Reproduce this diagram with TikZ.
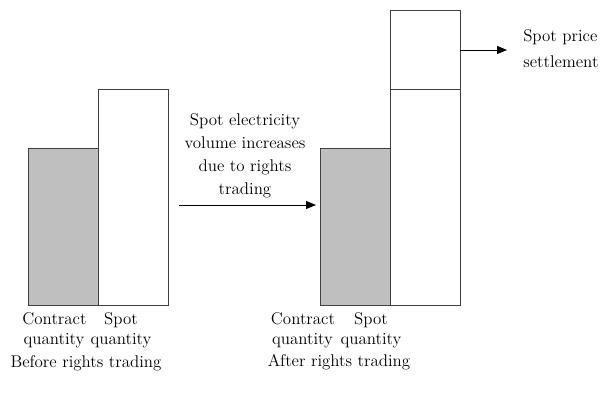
\documentclass[tikz,border=0pt]{standalone}
\usetikzlibrary{arrows.meta}
\begin{document}
\begin{tikzpicture}[x=0.75pt,y=-0.75pt,
  bar/.style={draw=black!75,line width=0.7pt,anchor=north west,inner sep=0pt,outer sep=0pt},
  contract/.style={bar,fill=black!25},
  spot/.style={bar,fill=white},
  lbl/.style={font=\fontsize{12.7}{15}\selectfont,inner sep=0pt,anchor=base},
  conn/.style={line width=0.75pt,-{Triangle[length=7.5pt,width=6pt]}}]
\useasboundingbox (0,0) rectangle (609,393);
% before rights trading
\node[contract,minimum width=70*0.75pt,minimum height=157*0.75pt] (lc) at (28.5,148.5) {};
\node[spot,minimum width=70*0.75pt,minimum height=216.5*0.75pt] (ls) at (98.5,89) {};
% after rights trading
\node[contract,minimum width=70*0.75pt,minimum height=157*0.75pt] (rc) at (320,148.5) {};
\node[spot,minimum width=70*0.75pt,minimum height=216.5*0.75pt] (rs) at (390,89) {};
\node[spot,minimum width=70*0.75pt,minimum height=79*0.75pt] (rx) at (390,10) {};
% middle explanation and arrow
\node[lbl] (m1) at (245,125) {Spot electricity};
\node[lbl] (m2) at (245,148) {volume increases};
\node[lbl] (m3) at (245,171) {due to rights};
\node[lbl] (m4) at (245,194) {trading};
\coordinate (mstart) at (179,205);
\coordinate (mend) at (316,205);
\draw[conn] (mstart) -- (mend);
% spot price settlement
\node[lbl,anchor=base west] (sp1) at (523,41) {Spot price};
\node[lbl,anchor=base west] (sp2) at (523,67) {settlement};
\coordinate (send) at (507,50);
\draw[conn] (rx.east |- send) -- (send);
% axis labels
\node[lbl] (l1) at (54.5,324) {Contract};
\node[lbl] (l2) at (121,324) {Spot};
\node[lbl] (l3) at (54,344) {quantity};
\node[lbl] (l4) at (121,344) {quantity};
\node[lbl] (l5) at (86,367) {Before rights trading};
\node[lbl] (r1) at (303,324) {Contract};
\node[lbl] (r2) at (371,324) {Spot};
\node[lbl] (r3) at (302.5,344) {quantity};
\node[lbl] (r4) at (371,344) {quantity};
\node[lbl] (r5) at (339,366) {After rights trading};
\end{tikzpicture}
\end{document}
